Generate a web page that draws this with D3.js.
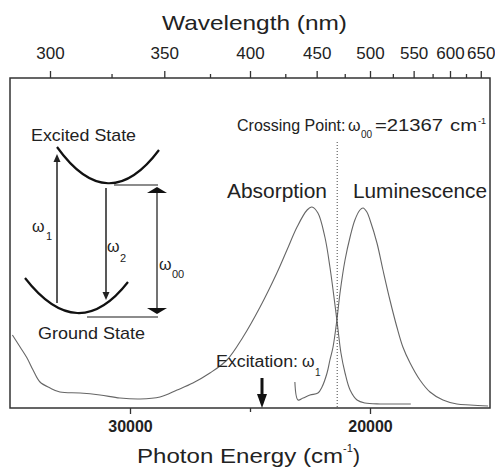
<!DOCTYPE html>
<html>
<head>
<meta charset="utf-8">
<script src="https://cdn.jsdelivr.net/npm/d3@7"></script>
<style>
  body { margin: 0; background: #fff; }
  svg text { font-family: Arial, "Liberation Sans", sans-serif; fill: #222; }
</style>
</head>
<body>
<svg id="chart" width="495" height="472"></svg>
<script>
// spectra (photon energy in cm-1, intensity normalised to peak)
const absEnergy = [34900, 34580, 34290, 34040, 33750, 33330, 32920, 32080, 31250, 30420,
  29580, 28750, 28040, 27380, 26670, 25960, 25290, 24580, 23880, 23460, 23040, 22620,
  22420, 22170, 21880, 21670, 21380, 21210, 21040, 20830, 20540, 20210, 19580, 18960, 18300];
const absIntensity = [0.365, 0.305, 0.25, 0.19, 0.13, 0.10, 0.08, 0.075, 0.065, 0.05,
  0.045, 0.055, 0.09, 0.125, 0.175, 0.24, 0.355, 0.505, 0.675, 0.79, 0.905, 0.99,
  1.005, 0.975, 0.855, 0.705, 0.44, 0.275, 0.175, 0.09, 0.04, 0.025, 0.02, 0.02, 0.02];

const lumEnergy = [23130, 23000, 22790, 22500, 22170, 22000, 21790, 21670, 21540, 21380,
  21250, 21040, 20830, 20630, 20420, 20290, 20130, 20000, 19710, 19460, 19170, 18880,
  18630, 18330, 17920, 17500, 16960, 16380, 15830, 15080];
const lumIntensity = [0.13, 0.04, 0.05, 0.065, 0.075, 0.105, 0.175, 0.24, 0.305, 0.44,
  0.575, 0.74, 0.855, 0.94, 0.99, 1.0, 0.98, 0.94, 0.825, 0.69, 0.54, 0.405,
  0.305, 0.225, 0.14, 0.08, 0.04, 0.02, 0.015, 0.01];

const energyMajor = [30000, 20000];
const energyMinor = [25000];
const wavelengthMajor = [300, 350, 400, 450, 500, 550, 600, 650];
const wavelengthMinor = [325, 375, 425, 475, 525, 575, 625];

const crossingEnergy = 21367;
const excitationEnergy = 24500;

const ink = "#222";
const svg = d3.select("#chart");
const plotL = 10, plotR = 490, plotT = 78, plotB = 408;

// energy runs right-to-left
const x = d3.scaleLinear().domain([35000, 15000]).range([plotL, plotR]);
// wavelength axis: lambda = 1e7 / E, so a pow(-1) scale stays linear in energy
const xNm = d3.scalePow().exponent(-1).domain([1e7 / 35000, 1e7 / 15000]).range([plotL, plotR]);
const y = d3.scaleLinear().domain([0, 1]).range([plotB, 208]);

// frame
svg.append("rect")
  .attr("x", plotL).attr("y", plotT)
  .attr("width", plotR - plotL).attr("height", plotB - plotT)
  .attr("fill", "none").attr("stroke", "#333").attr("stroke-width", 1.5);

// bottom axis
const gB = svg.append("g").attr("transform", `translate(0,${plotB})`)
  .call(d3.axisBottom(x).tickValues(energyMajor).tickSize(6).tickPadding(7).tickFormat(d3.format("d")));
gB.select(".domain").remove();
const gBm = svg.append("g").attr("transform", `translate(0,${plotB})`)
  .call(d3.axisBottom(x).tickValues(energyMinor).tickSize(4).tickFormat(""));
gBm.select(".domain").remove();

// top axis
const gT = svg.append("g").attr("transform", `translate(0,${plotT})`)
  .call(d3.axisTop(xNm).tickValues(wavelengthMajor).tickSize(7).tickPadding(12).tickFormat(d3.format("d")));
gT.select(".domain").remove();
const gTm = svg.append("g").attr("transform", `translate(0,${plotT})`)
  .call(d3.axisTop(xNm).tickValues(wavelengthMinor).tickSize(4).tickFormat(""));
gTm.select(".domain").remove();

svg.selectAll(".tick line").attr("stroke", "#333").attr("stroke-width", 1.3);
svg.selectAll(".tick text")
  .attr("font-size", 17).attr("font-family", "Arial, 'Liberation Sans', sans-serif").attr("fill", ink);
gB.selectAll(".tick text").attr("font-weight", "bold").attr("font-size", 16);

// axis titles
svg.append("text").attr("x", 162).attr("y", 30).attr("font-size", 21).attr("fill", ink)
  .attr("textLength", 185).attr("lengthAdjust", "spacingAndGlyphs")
  .text("Wavelength (nm)");

const xt = svg.append("g").attr("fill", ink);
xt.append("text").attr("x", 137).attr("y", 463).attr("font-size", 21)
  .attr("textLength", 206).attr("lengthAdjust", "spacingAndGlyphs")
  .text("Photon Energy (cm");
xt.append("text").attr("x", 343).attr("y", 452).attr("font-size", 11).text("-1");
xt.append("text").attr("x", 353).attr("y", 463).attr("font-size", 21).text(")");

// spectra
const spectrum = d3.line().x(d => x(d[0])).y(d => y(d[1])).curve(d3.curveCatmullRom);
const absData = absEnergy.map((e, i) => [e, absIntensity[i]]);
const lumData = lumEnergy.map((e, i) => [e, lumIntensity[i]]);

svg.append("path").datum(absData).attr("d", spectrum)
  .attr("fill", "none").attr("stroke", "#666").attr("stroke-width", 1.1);
svg.append("path").datum(lumData).attr("d", spectrum)
  .attr("fill", "none").attr("stroke", "#666").attr("stroke-width", 1.1);

// crossing point marker
svg.append("line")
  .attr("x1", x(crossingEnergy)).attr("x2", x(crossingEnergy))
  .attr("y1", 142).attr("y2", plotB)
  .attr("stroke", "#444").attr("stroke-width", 1).attr("stroke-dasharray", "1,2");

const cp = svg.append("g").attr("font-size", 16);
cp.append("text").attr("x", 237).attr("y", 131).attr("fill", ink).text("Crossing Point:");
cp.append("text").attr("x", 348).attr("y", 131).attr("fill", ink).text("ω");
cp.append("text").attr("x", 361).attr("y", 138).attr("font-size", 10).attr("fill", ink).text("00");
cp.append("text").attr("x", 375).attr("y", 131).attr("fill", ink)
  .attr("textLength", 68).attr("lengthAdjust", "spacingAndGlyphs").text("=21367");
cp.append("text").attr("x", 450).attr("y", 131).attr("fill", ink)
  .attr("textLength", 27).attr("lengthAdjust", "spacingAndGlyphs").text("cm");
cp.append("text").attr("x", 478).attr("y", 124).attr("font-size", 9).attr("fill", ink).text("-1");

svg.append("text").attr("x", 227).attr("y", 198).attr("font-size", 20).attr("fill", ink)
  .attr("textLength", 100).attr("lengthAdjust", "spacingAndGlyphs").text("Absorption");
svg.append("text").attr("x", 353).attr("y", 198).attr("font-size", 20).attr("fill", ink)
  .attr("textLength", 134).attr("lengthAdjust", "spacingAndGlyphs").text("Luminescence");

// excitation arrow + label
const ex = x(excitationEnergy);
svg.append("line").attr("x1", ex).attr("x2", ex).attr("y1", 378).attr("y2", 398)
  .attr("stroke", "#111").attr("stroke-width", 3);
svg.append("path")
  .attr("d", `M${ex - 5},394 L${ex + 5},394 L${ex},${plotB} Z`)
  .attr("fill", "#111");
const exl = svg.append("g").attr("font-size", 16);
exl.append("text").attr("x", 216).attr("y", 367).attr("fill", ink)
  .attr("textLength", 82).attr("lengthAdjust", "spacingAndGlyphs").text("Excitation:");
exl.append("text").attr("x", 302).attr("y", 367).attr("fill", ink).text("ω");
exl.append("text").attr("x", 315).attr("y", 376).attr("font-size", 10).attr("fill", ink).text("1");

// inset: potential energy sketch
const inset = svg.append("g");
inset.append("text").attr("x", 31).attr("y", 141).attr("font-size", 17).attr("fill", ink)
  .attr("textLength", 105).attr("lengthAdjust", "spacingAndGlyphs").text("Excited State");
inset.append("text").attr("x", 38).attr("y", 339).attr("font-size", 17).attr("fill", ink)
  .attr("textLength", 107).attr("lengthAdjust", "spacingAndGlyphs").text("Ground State");

inset.append("path").attr("d", "M57,147 Q108,218 159,150")
  .attr("fill", "none").attr("stroke", "#111").attr("stroke-width", 2.2);
inset.append("path").attr("d", "M25,278 Q78,346 128,282")
  .attr("fill", "none").attr("stroke", "#111").attr("stroke-width", 2.2);

inset.append("line").attr("x1", 114).attr("x2", 158).attr("y1", 185).attr("y2", 185)
  .attr("stroke", "#666").attr("stroke-width", 1.6);
inset.append("line").attr("x1", 87).attr("x2", 158).attr("y1", 317).attr("y2", 317)
  .attr("stroke", "#666").attr("stroke-width", 1.6);

// omega_1 (up), omega_2 (down)
inset.append("line").attr("x1", 57).attr("x2", 57).attr("y1", 303).attr("y2", 160)
  .attr("stroke", "#222").attr("stroke-width", 1.5);
inset.append("path").attr("d", "M53.5,162 L60.5,162 L57,154 Z").attr("fill", "#222");
inset.append("line").attr("x1", 106).attr("x2", 106).attr("y1", 188).attr("y2", 294)
  .attr("stroke", "#222").attr("stroke-width", 1.5);
inset.append("path").attr("d", "M102.5,292 L109.5,292 L106,300 Z").attr("fill", "#222");

// omega_00 double arrow
inset.append("line").attr("x1", 157).attr("x2", 157).attr("y1", 190).attr("y2", 311)
  .attr("stroke", "#444").attr("stroke-width", 1.5);
inset.append("path").attr("d", "M147,193 L167,193 L157,187 Z").attr("fill", "#111");
inset.append("path").attr("d", "M147,308 L167,308 L157,314 Z").attr("fill", "#111");

const om = (xx, yy, sub, sx, sy) => {
  inset.append("text").attr("x", xx).attr("y", yy).attr("font-size", 16).attr("fill", ink).text("ω");
  inset.append("text").attr("x", sx).attr("y", sy).attr("font-size", 11).attr("fill", ink).text(sub);
};
om(32, 232, "1", 46, 240);
om(107, 252, "2", 120, 262);
om(159, 270, "00", 172, 278);
</script>
</body>
</html>
